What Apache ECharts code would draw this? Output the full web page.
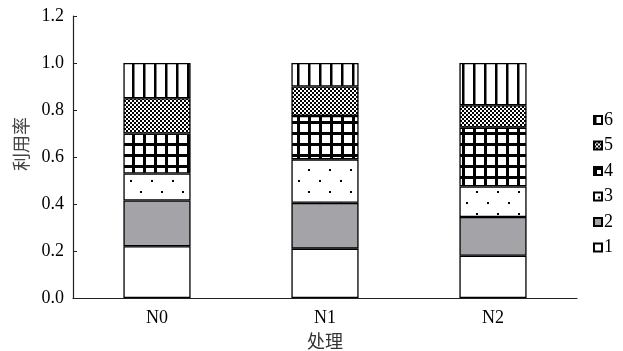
<!DOCTYPE html>
<html>
<head>
<meta charset="utf-8">
<script src="https://cdn.jsdelivr.net/npm/echarts@6/dist/echarts.min.js"></script>
<style>
  html, body { margin: 0; padding: 0; background: #fff; }
  #chart { width: 623px; height: 351px; }
</style>
</head>
<body>
<div id="chart"></div>
<script>
// Treatments along the x axis
const categories = ['N0', 'N1', 'N2'];
// Stacked component shares per treatment (bottom to top: 1..6)
const part1 = [0.22, 0.21, 0.18];
const part2 = [0.195, 0.195, 0.165];
const part3 = [0.115, 0.185, 0.13];
const part4 = [0.17, 0.185, 0.25];
const part5 = [0.15, 0.125, 0.095];
const part6 = [0.15, 0.10, 0.18];
const seriesNames = ['1', '2', '3', '4', '5', '6'];
const yTicks = { min: 0, max: 1.2, step: 0.2 };

// Build small tile canvases used as fill patterns
function tile(w, h, draw) {
  const c = document.createElement('canvas');
  c.width = w; c.height = h;
  const ctx = c.getContext('2d');
  ctx.fillStyle = '#fff';
  ctx.fillRect(0, 0, w, h);
  ctx.fillStyle = '#000';
  draw(ctx);
  return { image: c, repeat: 'repeat' };
}
const dotsFill = tile(21, 22, ctx => {
  ctx.fillRect(4, 4, 2, 2);
  ctx.fillRect(14, 15, 2, 2);
});
const gridFill = tile(11, 11, ctx => {
  ctx.fillRect(0, 0, 3, 11);
  ctx.fillRect(0, 0, 11, 3);
});
const checkFill = tile(4, 4, ctx => {
  ctx.fillRect(0, 0, 2, 2);
  ctx.fillRect(2, 2, 2, 2);
});
const stripeFill = tile(11, 4, ctx => {
  ctx.fillRect(0, 0, 2.5, 4);
});

const fills = ['#ffffff', '#a3a3a8', dotsFill, gridFill, checkFill, stripeFill];
const values = [part1, part2, part3, part4, part5, part6];

const font = 'Liberation Serif';

const chart = echarts.init(document.getElementById('chart'));
chart.setOption({
  animation: false,
  backgroundColor: '#fff',
  grid: { left: 73, right: 46, top: 16, bottom: 53, outerBoundsMode: 'none', containLabel: false },
  legend: {
    orient: 'vertical',
    left: 593,
    top: 111,
    padding: 0,
    itemWidth: 8,
    itemHeight: 8,
    itemGap: 7.5,
    icon: 'rect',
    data: seriesNames.slice().reverse(),
    textStyle: { fontFamily: font, fontSize: 18, color: '#000', padding: [0, 0, 0, -3] }
  },
  xAxis: {
    type: 'category',
    data: categories,
    name: '处理',
    nameLocation: 'middle',
    nameGap: 30,
    nameTextStyle: { fontFamily: 'Noto Sans CJK SC', fontSize: 18, color: '#333' },
    axisLine: { lineStyle: { color: '#222', width: 1.2 } },
    axisTick: { inside: true, length: 4, lineStyle: { color: '#222' } },
    axisLabel: { fontFamily: font, fontSize: 18, color: '#000', margin: 11 }
  },
  yAxis: {
    type: 'value',
    min: yTicks.min,
    max: yTicks.max,
    interval: yTicks.step,
    name: '利用率',
    nameLocation: 'middle',
    nameRotate: 90,
    nameGap: 43,
    nameTextStyle: { fontFamily: 'Noto Sans CJK SC', fontSize: 18, color: '#444', padding: [0, 0, 0, 26] },
    splitLine: { show: false },
    axisLine: { show: true, lineStyle: { color: '#222', width: 1.2 } },
    axisTick: { show: true, inside: true, length: 4, lineStyle: { color: '#222' } },
    axisLabel: { fontFamily: font, fontSize: 18, color: '#000', margin: 9,
      formatter: v => v.toFixed(1) }
  },
  series: seriesNames.map((name, i) => ({
    name: name,
    type: 'bar',
    stack: 'total',
    barWidth: '40%',
    data: values[i],
    itemStyle: { color: fills[i], borderColor: '#000', borderWidth: 1.3 }
  }))
});
</script>
</body>
</html>
